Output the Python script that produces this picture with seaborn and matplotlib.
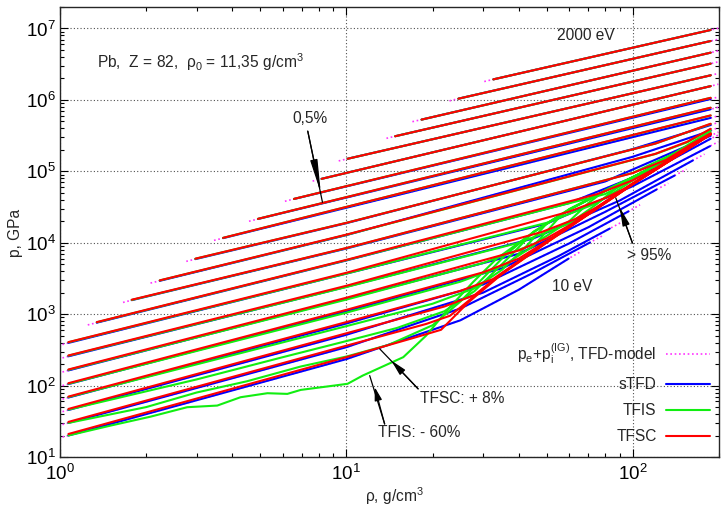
import matplotlib
matplotlib.use('Agg')
import matplotlib.pyplot as plt
import pandas as pd
import seaborn as sns
from matplotlib.lines import Line2D
from matplotlib.ticker import LogLocator, NullFormatter

# isotherms from 10 eV (first) upwards; knots
# rho in g/cm3, p in GPa

# TFSC (red)
tfsc_rho = [
    [1.07, 10, 17, 21.4, 26.6, 34.8, 50, 70, 100, 139],
    [1.07, 10, 19, 23, 26.6, 34.8, 50, 70, 100, 140, 161],
    [1.07, 10, 22, 28, 34.8, 50, 70, 100, 140, 187],
    [1.07, 10, 25, 32.5, 40, 50, 70, 100, 140, 187],
    [1.07, 10, 30, 40, 50, 70, 100, 140, 187],
    [1.07, 10, 40, 50, 60, 70, 100, 140, 187],
    [1.07, 10, 48, 63, 75, 100, 140, 187],
    [1.07, 10, 60, 81, 95, 120, 160, 187],
    [1.344, 10, 75, 100, 120, 160, 187],
    [1.78, 10, 100, 131, 160, 187],
    [2.23, 10, 120, 155, 187],
    [2.97, 10, 120, 187],
    [3.71, 187],
    [4.91, 187],
    [6.56, 187],
]
tfsc_p = [
    [21, 250, 460, 604, 1450, 3600, 1.0e4, 2.5e4, 6.6e4, 1.55e5],
    [31, 362, 730, 950, 1520, 3650, 1.01e4, 2.5e4, 6.6e4, 1.55e5, 2.25e5],
    [47.1, 540, 1280, 1850, 3700, 1.02e4, 2.52e4, 6.6e4, 1.56e5, 3.3e5],
    [70.1, 775, 2120, 3100, 5500, 1.03e4, 2.53e4, 6.65e4, 1.56e5, 3.3e5],
    [108, 1150, 3850, 6000, 1.05e4, 2.55e4, 6.7e4, 1.57e5, 3.3e5],
    [168, 1700, 7800, 1.15e4, 1.75e4, 2.62e4, 6.75e4, 1.57e5, 3.3e5],
    [264, 2500, 1.41e4, 2.15e4, 3.15e4, 6.8e4, 1.58e5, 3.32e5],
    [406, 3800, 2.73e4, 4.3e4, 5.9e4, 1.05e5, 2.22e5, 3.35e5],
    [774, 5760, 4.79e4, 7.5e4, 1.1e5, 2.3e5, 3.37e5],
    [1592, 8450, 9.47e4, 1.45e5, 2.4e5, 3.4e5],
    [2972, 1.3e4, 1.76e5, 2.6e5, 3.94e5],
    [5984, 1.9e4, 2.45e5, 4.64e5],
    [1.17e4, 6.07e5],
    [2.16e4, 7.78e5],
    [4.11e4, 1.07e6],
]

# sTFD (blue)
stfd_rho = [
    [1.07, 10, 25, 40, 59.7],
    [1.07, 10, 25, 45, 70.9],
    [1.07, 10, 30, 55, 83.1],
    [1.07, 10, 30, 60, 96.6],
    [1.07, 10, 35, 70, 121],
    [1.07, 10, 40, 80, 140],
    [1.07, 10, 45, 90, 162],
    [1.07, 10, 50, 100, 186],
    [1.344, 10, 60, 120, 187],
    [1.78, 10, 80, 187],
    [2.23, 10, 100, 187],
    [2.97, 10, 100, 187],
    [3.71, 187],
    [4.91, 187],
    [6.56, 187],
]
stfd_p = [
    [20, 235, 820, 2200, 6000],
    [30, 345, 1200, 3800, 1.01e4],
    [45.5, 515, 2000, 6500, 1.58e4],
    [68, 740, 2600, 9800, 2.75e4],
    [105, 1100, 4400, 1.65e4, 5.56e4],
    [163, 1640, 7000, 2.7e4, 8.73e4],
    [257, 2420, 1.15e4, 3.9e4, 1.42e5],
    [396, 3700, 1.85e4, 6.2e4, 2.25e5],
    [760, 5650, 3.6e4, 1.1e5, 2.86e5],
    [1570, 8300, 7.2e4, 3.15e5],
    [2930, 1.28e4, 1.6e5, 3.7e5],
    [5900, 1.88e4, 2.05e5, 4.45e5],
    [1.16e4, 5.6e5],
    [2.15e4, 7.4e5],
    [4.1e4, 1.03e6],
]

# TFIS (green)
tfis_rho = [
    [1.07, 1.5, 2.07, 2.78, 3.54, 4.27, 5.3, 6.22, 6.93, 9.06, 10.1, 11.4,
     15.8, 19, 23, 27.7, 33.5, 45, 60, 80, 110, 161],
    [1.07, 2, 3, 4.5, 6.93, 10, 14, 20, 25, 30, 36, 45, 60, 80, 110, 161],
    [1.07, 3, 6, 10, 15, 22, 28, 33, 38, 45, 60, 80, 110, 161],
    [1.07, 10, 20, 28, 35, 42, 50, 60, 80, 110, 161],
    [1.07, 10, 25, 35, 45, 55, 60, 80, 110, 161],
    [1.07, 10, 30, 45, 60, 70, 80, 110, 161],
    [1.07, 10, 40, 60, 75, 90, 110, 161],
    [1.07, 10, 50, 75, 95, 115, 161],
    [1.344, 10, 80, 100, 120, 187],
    [1.78, 10, 100, 140, 187],
    [2.23, 10, 120, 155, 187],
    [2.97, 10, 120, 187],
    [3.71, 187],
    [4.91, 187],
    [6.56, 187],
]
tfis_p = [
    [20, 27.5, 36.7, 49.8, 52.5, 68.7, 78.2, 76.5, 87, 100, 106, 138,
     250, 502, 1260, 2820, 6000, 1.4e4, 2.9e4, 5.3e4, 1.0e5, 2.25e5],
    [30, 50, 80, 115, 185, 255, 370, 700, 1500, 3200, 6800, 1.42e4, 2.9e4, 5.3e4, 1.0e5, 2.25e5],
    [46, 122, 250, 420, 640, 1100, 2100, 4000, 7000, 1.42e4, 2.9e4, 5.3e4, 1.0e5, 2.25e5],
    [69, 680, 1400, 2300, 4200, 8500, 1.85e4, 2.95e4, 5.3e4, 1.0e5, 2.25e5],
    [106, 1050, 2850, 4700, 9000, 2.2e4, 2.95e4, 5.35e4, 1.0e5, 2.25e5],
    [166, 1600, 5200, 9500, 2.0e4, 3.6e4, 5.4e4, 1.0e5, 2.25e5],
    [262, 2400, 1.0e4, 1.85e4, 3.5e4, 6.4e4, 1.02e5, 2.25e5],
    [404, 3700, 1.9e4, 3.6e4, 6.5e4, 1.1e5, 2.25e5],
    [770, 5700, 4.8e4, 7.6e4, 1.25e5, 3.47e5],
    [1580, 8400, 9.5e4, 1.8e5, 3.7e5],
    [2965, 1.29e4, 1.75e5, 2.55e5, 3.9e5],
    [5970, 1.9e4, 2.45e5, 4.6e5],
    [1.17e4, 6.05e5],
    [2.16e4, 7.76e5],
    [4.11e4, 1.07e6],
]

# hottest isotherms, all models coincide (top one is 2000 eV)
hot_rho = [[8.19, 187], [10.1, 187], [14.8, 187], [18.3, 187], [24.6, 187], [32.6, 187]]
hot_p = [[7.85e4, 1.56e6], [1.5e5, 2.21e6], [3.1e5, 3.22e6],
         [5.3e5, 4.59e6], [1.04e6, 6.68e6], [1.94e6, 9.53e6]]

# TFD-model (p_e + p_i ideal gas): runs a little past both ends of the sTFD curves
tfd_lo_rho = [1.02, 1.02, 1.02, 1.02, 1.02, 1.02, 1.02, 1.02, 1.25, 1.66, 2.07,
              2.76, 3.45, 4.57, 6.1, 7.62, 9.4, 13.8, 17.0, 22.9, 30.3]
tfd_lo_p = [19, 28.5, 43.2, 64.6, 100, 155, 244, 376, 707, 1460, 2725,
            5490, 1.08e4, 2.0e4, 3.81e4, 7.3e4, 1.4e5, 2.9e5, 4.96e5, 9.7e5, 1.81e6]
tfd_hi_rho = [65.7, 78, 91.4, 106, 133, 154, 178, 199, 199, 199, 199,
              199, 199, 199, 199, 199, 199, 199, 199, 199, 199]
tfd_hi_p = [7.5e3, 1.24e4, 1.94e4, 3.4e4, 6.8e4, 1.07e5, 1.74e5, 2.6e5, 3.23e5, 3.55e5, 4.1e5,
            4.85e5, 5.98e5, 7.9e5, 1.1e6, 1.66e6, 2.35e6, 3.42e6, 4.87e6, 7.08e6, 1.01e7]

RED, BLUE, GREEN, MAGENTA = '#ff0000', '#0000ff', '#11ee11', '#ff33ff'


def to_long(rho_sets, p_sets):
    rows = []
    for k, (rr, pp) in enumerate(zip(rho_sets, p_sets)):
        rows += [(k, r, p) for r, p in zip(rr, pp)]
    return pd.DataFrame(rows, columns=['iso', 'rho', 'p'])


tfsc = to_long(tfsc_rho + hot_rho, tfsc_p + hot_p)
stfd = to_long(stfd_rho + hot_rho, stfd_p + hot_p)
tfis = to_long(tfis_rho + hot_rho, tfis_p + hot_p)
tfd = to_long([[a] + r + [b] for a, r, b in zip(tfd_lo_rho, stfd_rho + hot_rho, tfd_hi_rho)],
              [[a] + r + [b] for a, r, b in zip(tfd_lo_p, stfd_p + hot_p, tfd_hi_p)])

sns.set_style('ticks')
plt.rcParams['font.family'] = ['Liberation Sans', 'DejaVu Sans']
plt.rcParams['mathtext.fontset'] = 'custom'
plt.rcParams['mathtext.rm'] = 'Liberation Sans'
plt.rcParams['mathtext.it'] = 'Liberation Sans:italic'
plt.rcParams['mathtext.bf'] = 'Liberation Sans:bold'
plt.rcParams['mathtext.default'] = 'regular'

fig = plt.figure(figsize=(7.24, 5.08), dpi=100)
ax = fig.add_axes([60 / 724, 51 / 508, 659 / 724, 450 / 508])
ax.set_xscale('log')
ax.set_yscale('log')

for df, col, ls, lw in [(tfd, MAGENTA, (0, (1, 1.6)), 1.2), (stfd, BLUE, '-', 1.5),
                        (tfis, GREEN, '-', 1.5), (tfsc, RED, '-', 1.5)]:
    sns.lineplot(data=df, x='rho', y='p', units='iso', estimator=None, sort=False,
                 color=col, linestyle=ls, linewidth=lw, ax=ax, legend=False)

ax.set_xlim(1, 200)
ax.set_ylim(10, 2e7)
ax.set_xlabel('')
ax.set_ylabel('')
ax.xaxis.label.set_visible(False)
ax.yaxis.label.set_visible(False)

ax.xaxis.set_major_locator(LogLocator(base=10, numticks=20))
ax.yaxis.set_major_locator(LogLocator(base=10, numticks=20))
for axis in (ax.xaxis, ax.yaxis):
    axis.set_minor_locator(LogLocator(base=10, subs=(2, 3, 4, 5, 6, 7, 8, 9), numticks=100))
    axis.set_minor_formatter(NullFormatter())
ax.tick_params(which='both', direction='in', top=True, right=True, width=0.8, colors='black')
ax.tick_params(which='major', length=6, labelsize=13.5)
ax.tick_params(which='minor', length=3)
ax.tick_params(axis='x', which='major', pad=5)
ax.tick_params(axis='y', which='major', pad=3)
ax.grid(True, which='major', color='#505050', linestyle=(0, (1, 2)), linewidth=0.8)
ax.set_axisbelow(True)
for s in ax.spines.values():
    s.set_linewidth(1.0)

fs = 11.2
ax.text(0.0561, 0.8638, 'Pb,  Z = 82,  ρ$_0$ = 11,35 g/cm$^3$', transform=ax.transAxes,
        fontsize=fs, va='baseline')
ax.text(0.7542, 0.926, '2000 eV', transform=ax.transAxes, fontsize=fs, va='baseline')
ax.text(0.3531, 0.7416, '0,5%', transform=ax.transAxes, fontsize=fs, va='baseline')
ax.text(0.8604, 0.4378, '> 95%', transform=ax.transAxes, fontsize=fs, va='baseline')
ax.text(0.7466, 0.3682, '10 eV', transform=ax.transAxes, fontsize=fs, va='baseline')
ax.text(0.5467, 0.12, 'TFSC: + 8%', transform=ax.transAxes, fontsize=fs, va='baseline')
ax.text(0.4826, 0.0438, 'TFIS: - 60%', transform=ax.transAxes, fontsize=fs, va='baseline')


def pointer(tail, tip, target, head):
    ax.annotate('', xy=target, xytext=tail,
                arrowprops=dict(arrowstyle='-', lw=0.9, color='black', shrinkA=0, shrinkB=0))
    ax.annotate('', xy=tip, xytext=tail,
                arrowprops=dict(arrowstyle=f'-|>,head_length={head},head_width=0.22',
                                lw=0.9, color='black', shrinkA=0, shrinkB=0, mutation_scale=10))


pointer((7.33, 3.65e5), (8.14, 4.99e4), (8.25, 3.69e4), 2.0)
pointer((17.8, 90), (14.35, 224), (13.07, 327), 0.95)
pointer((13.6, 29), (12.56, 95), (12.06, 138), 0.8)
pointer((99.7, 9.93e3), (90.1, 3.1e4), (87.2, 4.25e4), 1.1)

handles = [Line2D([], [], color=MAGENTA, linestyle=(0, (1, 1.6)), linewidth=1.2),
           Line2D([], [], color=BLUE, linewidth=1.5),
           Line2D([], [], color=GREEN, linewidth=1.5),
           Line2D([], [], color=RED, linewidth=1.5)]
labels = ['p$_e$+p$_i^{(IG)}$, TFD-model', 'sTFD', 'TFIS', 'TFSC']
ax.legend(handles, labels, loc='lower right', bbox_to_anchor=(0.9863, 0.029), frameon=False,
          markerfirst=False, fontsize=fs, handlelength=2.83, handletextpad=0.6,
          labelspacing=0.7, borderpad=0, borderaxespad=0)

fig.text(15.5 / 724, 1 - 233 / 508, 'p, GPa', rotation=90, ha='center', va='center', fontsize=fs)
fig.text(394 / 724, 1 - 496 / 508, 'ρ, g/cm$^3$', ha='center', va='center', fontsize=fs)

fig.savefig('out.png', dpi=100)
